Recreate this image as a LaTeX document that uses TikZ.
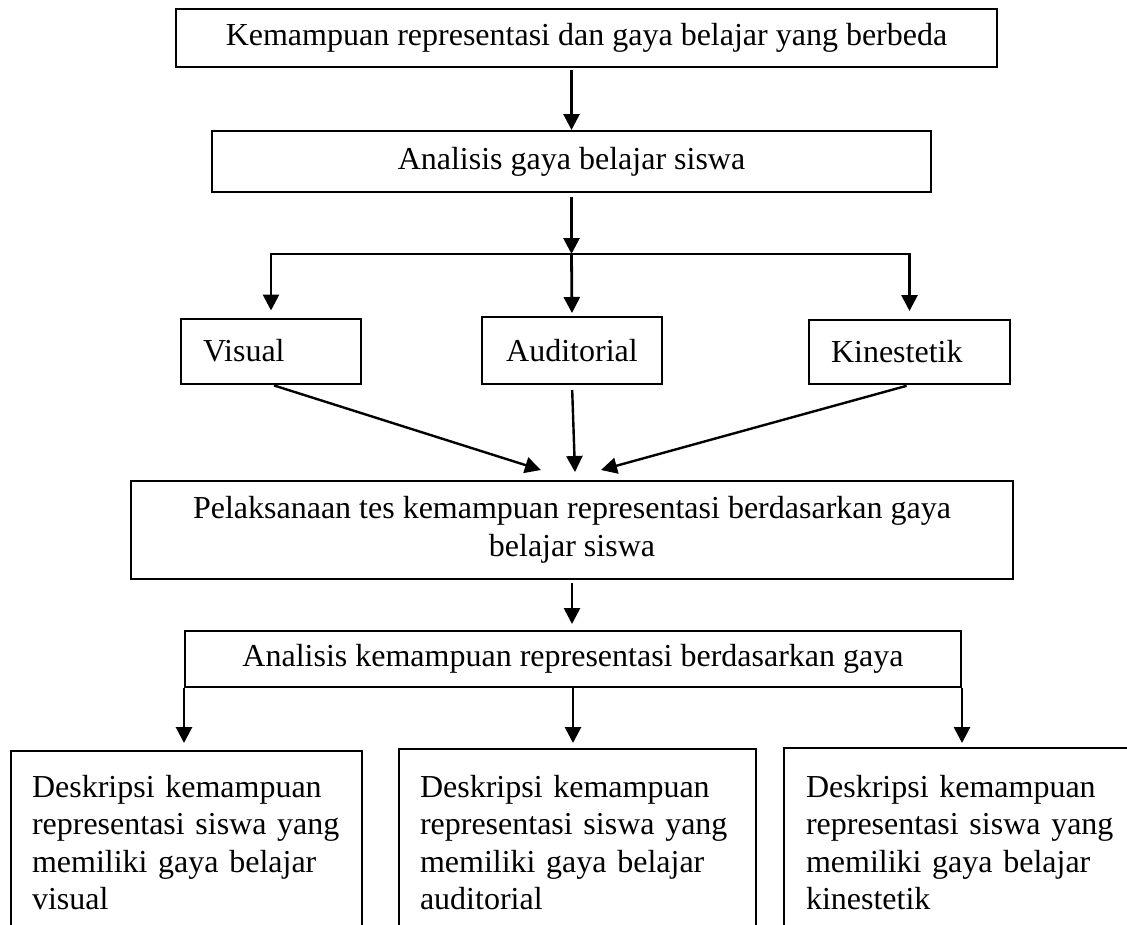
\documentclass[tikz,border=0pt]{standalone}
\usepackage{fontspec}
\setmainfont{Liberation Serif}
\usetikzlibrary{arrows.meta, positioning}

\begin{document}
\begin{tikzpicture}[x=1pt, y=-1pt, font=\fontsize{32}{37.5}\selectfont,
  box/.style={draw, line width=2pt, inner sep=0pt},
  arr/.style={line width=2.8pt, -{Triangle[width=16pt,length=16pt]}}]
  \useasboundingbox (0,0) rectangle (1127,924);
  \clip (0,0) rectangle (1127,924);
  % tahap awal
  \node[box, minimum width=821pt, minimum height=58pt] (awal) at (586.5,38) {Kemampuan representasi dan gaya belajar yang berbeda};
  \node[box, minimum width=719pt, minimum height=61pt] (gaya) at (571.5,161.5) {Analisis gaya belajar siswa};
  \coordinate (cabang) at (571.5,254);
  % tiga gaya belajar
  \node[box, minimum width=180pt, minimum height=65pt, text width=136pt, align=left] (visual) at (271,351) {Visual};
  \node[box, minimum width=180pt, minimum height=67pt] (audi) at (572,350.5) {Auditorial};
  \node[box, minimum width=201pt, minimum height=64pt, text width=157pt, align=left] (kines) at (909.5,352) {Kinestetik};
  \coordinate (masukL) at (541,470); \coordinate (masukM) at (575,472); \coordinate (masukR) at (601,470);
  \node[box, minimum width=882pt, minimum height=98pt, align=center] (tes) at (572,530) {Pelaksanaan tes kemampuan representasi berdasarkan gaya\\belajar siswa};
  \node[box, minimum width=776pt, minimum height=56pt] (akem) at (573,659) {Analisis kemampuan representasi berdasarkan gaya};
  % deskripsi
  \node[box, anchor=north west, minimum width=351pt, minimum height=183pt, text width=309pt, align=left] (dvis) at (10,750) {Deskripsi kemampuan\\representasi siswa yang\\memiliki gaya belajar\\visual};
  \node[box, anchor=north west, minimum width=357pt, minimum height=187pt, text width=315pt, align=left] (daud) at (398,748) {Deskripsi kemampuan\\representasi siswa yang\\memiliki gaya belajar\\auditorial};
  \node[box, anchor=north west, minimum width=360pt, minimum height=189pt, text width=316pt, align=left] (dkin) at (783,747) {Deskripsi kemampuan\\representasi siswa yang\\memiliki gaya belajar\\kinestetik};

  \draw[arr, shorten <=2pt] (gaya.north |- awal.south) -- (gaya.north);
  \draw[arr, shorten <=4pt] (gaya.south) -- (cabang);
  \draw[arr, shorten >=7pt] (cabang) -| (visual.north);
  \draw[arr, shorten >=3pt] (cabang) -- (audi.north);
  \draw[arr, shorten >=8pt] (cabang) -| (kines.north);
  \draw[arr, line width=2.4pt, shorten <=3pt] (visual.south) -- (masukL);
  \draw[arr, line width=2.4pt, shorten <=5pt] (audi.south) -- (masukM);
  \draw[arr, line width=2.4pt, shorten <=3pt] (kines.south) -- (masukR);
  \draw[arr, shorten <=3pt, shorten >=6pt] (tes.south) -- (tes.south |- akem.north);
  \draw[arr, shorten >=7pt] (akem.south west) -- (akem.south west |- dvis.north);
  \draw[arr, shorten >=5pt] (akem.south) -- (akem.south |- daud.north);
  \draw[arr, shorten >=4pt] (akem.south east) -- (akem.south east |- dkin.north);
\end{tikzpicture}
\end{document}
